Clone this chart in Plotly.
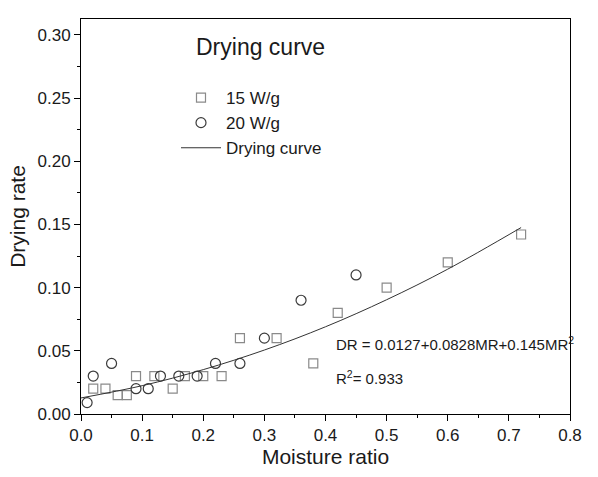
import plotly.graph_objects as go

# 15 W/g data
mr_15 = [0.02, 0.04, 0.06, 0.075, 0.09, 0.12, 0.15, 0.17, 0.20, 0.23, 0.26, 0.32, 0.38, 0.42, 0.50, 0.60, 0.72]
dr_15 = [0.020, 0.020, 0.015, 0.015, 0.030, 0.030, 0.020, 0.030, 0.030, 0.030, 0.060, 0.060, 0.040, 0.080, 0.100, 0.120, 0.142]

# 20 W/g data
mr_20 = [0.01, 0.02, 0.05, 0.09, 0.11, 0.13, 0.16, 0.19, 0.22, 0.26, 0.30, 0.36, 0.45]
dr_20 = [0.009, 0.030, 0.040, 0.020, 0.020, 0.030, 0.030, 0.030, 0.040, 0.040, 0.060, 0.090, 0.110]

# fitted drying curve
curve_mr = [0.0, 0.1, 0.2, 0.3, 0.4, 0.5, 0.6, 0.72]
curve_dr = [0.0127, 0.0224, 0.0351, 0.0506, 0.0690, 0.0904, 0.1146, 0.1475]

FONT = "Arial, Liberation Sans, sans-serif"
TXT = "#1a1a1a"

fig = go.Figure()
fig.add_trace(go.Scatter(
    x=mr_15, y=dr_15, mode="markers", name="15 W/g",
    marker=dict(symbol="square-open", size=9, color="#8a8a8a", line=dict(width=1.2, color="#8a8a8a")),
))
fig.add_trace(go.Scatter(
    x=mr_20, y=dr_20, mode="markers", name="20 W/g",
    marker=dict(symbol="circle-open", size=10, color="#3a3a3a", line=dict(width=1.2, color="#3a3a3a")),
))
fig.add_trace(go.Scatter(
    x=curve_mr, y=curve_dr, mode="lines", name="Drying curve",
    line=dict(color="#333333", width=1, shape="spline"),
))

axis_common = dict(
    showline=True, linecolor="#000000", linewidth=1, mirror=True,
    ticks="outside", ticklen=6, tickcolor="#000000", tickwidth=1,
    showgrid=False, zeroline=False,
    tickfont=dict(family=FONT, size=17, color=TXT),
)

fig.update_xaxes(
    range=[0, 0.8], dtick=0.1, tickformat=".1f",
    minor=dict(ticks="outside", ticklen=3, dtick=0.05, tickcolor="#000000"),
    title=dict(text="Moisture ratio", font=dict(family=FONT, size=21, color=TXT), standoff=2),
    **axis_common,
)
fig.update_yaxes(
    range=[0, 0.3125], dtick=0.05, tickformat=".2f",
    minor=dict(ticks="outside", ticklen=3, dtick=0.025, tickcolor="#000000"),
    title=dict(text="Drying rate", font=dict(family=FONT, size=21, color=TXT), standoff=6),
    **axis_common,
)

fig.add_annotation(
    text="Drying curve", xref="paper", yref="paper", x=(194 - 81) / 489, y=(414 - 47) / 395,
    xanchor="left", yanchor="middle", showarrow=False,
    font=dict(family=FONT, size=23, color=TXT),
)
fig.add_annotation(
    text="DR = 0.0127+0.0828MR+0.145MR<sup>2</sup>", xref="paper", yref="paper",
    x=(334 - 81) / 489, y=(414 - 343) / 395, xanchor="left", yanchor="middle", showarrow=False,
    font=dict(family=FONT, size=15, color=TXT),
)
fig.add_annotation(
    text="R<sup>2</sup>= 0.933", xref="paper", yref="paper",
    x=(334 - 81) / 489, y=(414 - 377) / 395, xanchor="left", yanchor="middle", showarrow=False,
    font=dict(family=FONT, size=15, color=TXT),
)

fig.update_layout(
    width=598, height=477,
    margin=dict(l=81, r=28, t=19, b=63, autoexpand=False),
    paper_bgcolor="white", plot_bgcolor="white",
    showlegend=True,
    legend=dict(
        x=(176 - 81) / 489, y=(414 - 80) / 395, xanchor="left", yanchor="top",
        bgcolor="rgba(0,0,0,0)", borderwidth=0,
        font=dict(family=FONT, size=17, color=TXT),
        tracegroupgap=0, itemwidth=40,
    ),
)

fig.write_html("out.html")
